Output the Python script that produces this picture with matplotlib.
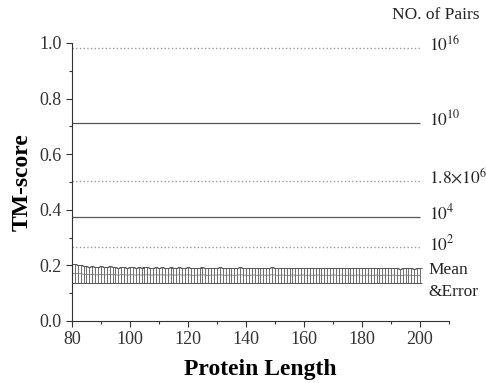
import matplotlib
matplotlib.use('Agg')
import matplotlib.pyplot as plt
import numpy as np
from matplotlib.ticker import MultipleLocator

plt.rcParams['font.family'] = ['Liberation Serif', 'DejaVu Serif']
plt.rcParams['mathtext.fontset'] = 'stix'

# protein length 80..200, mean TM-score and error
length = np.arange(80, 201)
mean = [0.171, 0.171, 0.170, 0.170, 0.168, 0.167, 0.166, 0.167, 0.166, 0.166,
        0.167, 0.166, 0.166, 0.167, 0.166, 0.166, 0.165, 0.166, 0.166, 0.165,
        0.166, 0.166, 0.165, 0.166, 0.165, 0.166, 0.166, 0.165, 0.165, 0.166,
        0.165, 0.166, 0.165, 0.165, 0.166, 0.165, 0.165, 0.166, 0.165, 0.165,
        0.166, 0.165, 0.164, 0.165, 0.165, 0.166, 0.165, 0.164, 0.165, 0.165,
        0.165, 0.166, 0.165, 0.164, 0.165, 0.165, 0.164, 0.165, 0.166, 0.165,
        0.165, 0.164, 0.165, 0.165, 0.164, 0.165, 0.165, 0.164, 0.165, 0.166,
        0.165, 0.164, 0.165, 0.165, 0.164, 0.164, 0.165, 0.165, 0.164, 0.165,
        0.165, 0.164, 0.165, 0.164, 0.165, 0.165, 0.164, 0.165, 0.164, 0.164,
        0.165, 0.165, 0.164, 0.165, 0.164, 0.164, 0.165, 0.164, 0.165, 0.165,
        0.164, 0.164, 0.165, 0.164, 0.164, 0.165, 0.164, 0.164, 0.165, 0.164,
        0.164, 0.165, 0.164, 0.163, 0.164, 0.165, 0.164, 0.164, 0.163, 0.164,
        0.164]
err = [0.033, 0.033, 0.032, 0.032, 0.030, 0.029, 0.028, 0.029, 0.028, 0.028,
       0.029, 0.028, 0.028, 0.029, 0.028, 0.028, 0.027, 0.028, 0.028, 0.027,
       0.028, 0.028, 0.027, 0.028, 0.027, 0.028, 0.028, 0.027, 0.027, 0.028,
       0.027, 0.028, 0.027, 0.027, 0.028, 0.027, 0.027, 0.028, 0.027, 0.027,
       0.028, 0.027, 0.026, 0.027, 0.027, 0.028, 0.027, 0.026, 0.027, 0.027,
       0.027, 0.028, 0.027, 0.026, 0.027, 0.027, 0.026, 0.027, 0.028, 0.027,
       0.027, 0.026, 0.027, 0.027, 0.026, 0.027, 0.027, 0.026, 0.027, 0.028,
       0.027, 0.026, 0.027, 0.027, 0.026, 0.026, 0.027, 0.027, 0.026, 0.027,
       0.027, 0.026, 0.027, 0.026, 0.027, 0.027, 0.026, 0.027, 0.026, 0.026,
       0.027, 0.027, 0.026, 0.027, 0.026, 0.026, 0.027, 0.026, 0.027, 0.027,
       0.026, 0.026, 0.027, 0.026, 0.026, 0.027, 0.026, 0.026, 0.027, 0.026,
       0.026, 0.027, 0.026, 0.025, 0.026, 0.027, 0.026, 0.026, 0.025, 0.026,
       0.026]

# reference levels and their number of pairs
levels = [0.982, 0.713, 0.504, 0.375, 0.265]
level_styles = [':', '-', ':', '-', ':']
level_labels = [r'$10^{16}$', r'$10^{10}$', r'$1.8{\times}10^{6}$', r'$10^{4}$', r'$10^{2}$']

fig = plt.figure(figsize=(4.86, 3.83), dpi=100)
ax = fig.add_axes([0.148, 0.162, 0.776, 0.726])

for lv, ls in zip(levels, level_styles):
    if ls == ':':
        ax.hlines(lv, 80, 200, colors='#9a9a9a', linestyles=':', lw=1.0)
    else:
        ax.hlines(lv, 80, 200, colors='#555555', linestyles='-', lw=0.9)

ax.errorbar(length, mean, yerr=err, color='#777777', ecolor='#555555',
            elinewidth=0.6, capsize=1.4, capthick=0.7, lw=0.6)

fs = 12.5
for lv, lab in zip(levels, level_labels):
    ax.text(203, lv + 0.012, lab, fontsize=fs, va='center', ha='left',
            color='#222222', clip_on=False)
ax.text(203, 0.182, 'Mean', fontsize=fs, va='center', ha='left', color='#222222')
ax.text(203, 0.104, '&Error', fontsize=fs, va='center', ha='left', color='#222222')
ax.text(190.5, 1.10, 'NO. of Pairs', fontsize=fs, va='center', ha='left',
        color='#222222', clip_on=False)

ax.set_xlim(80, 210)
ax.set_ylim(0, 1.0)
ax.xaxis.set_major_locator(MultipleLocator(20))
ax.xaxis.set_minor_locator(MultipleLocator(10))
ax.yaxis.set_major_locator(MultipleLocator(0.2))
ax.yaxis.set_minor_locator(MultipleLocator(0.1))
ax.yaxis.set_major_formatter(matplotlib.ticker.FormatStrFormatter('%.1f'))
ax.spines['top'].set_visible(False)
ax.spines['right'].set_visible(False)
ax.spines['left'].set_color('#333333')
ax.spines['bottom'].set_color('#333333')
ax.tick_params(which='major', length=4, width=0.8, labelsize=13, colors='#333333')
ax.tick_params(which='minor', length=2.5, width=0.8, colors='#333333')

ax.set_xlabel('Protein Length', fontsize=17, fontweight='bold', labelpad=8)
ax.set_ylabel('TM-score', fontsize=17, fontweight='bold', labelpad=5)

fig.savefig('out.png', dpi=100)
